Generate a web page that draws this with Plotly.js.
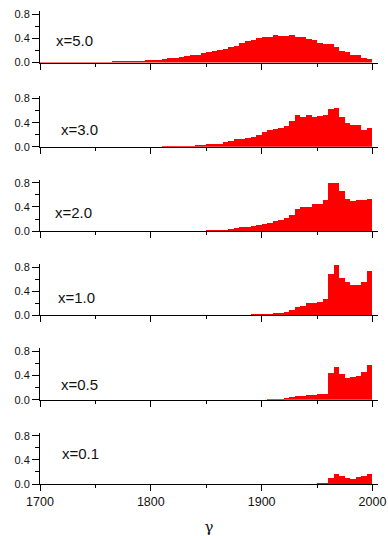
<!DOCTYPE html>
<html>
<head>
<meta charset="utf-8">
<script src="https://cdn.plot.ly/plotly-3.0.1.min.js"></script>
<style>html,body{margin:0;padding:0;background:#fff;}#chart{width:388px;height:536px;}</style>
</head>
<body>
<div id="chart"></div>
<script>
// bin left edges 1700..1995 (width 5)
const binStart = 1700;
const binWidth = 5;
const panelLabels = ["x=5.0", "x=3.0", "x=2.0", "x=1.0", "x=0.5", "x=0.1"];

const histX50 = [0.005,0.005,0.005,0.005,0.005,0.005,0.008,0.008,0.008,0.008,
  0.015,0.015,0.015,0.02,0.02,0.022,0.025,0.028,0.03,0.035,
  0.04,0.045,0.06,0.07,0.08,0.09,0.11,0.125,0.13,0.15,
  0.166,0.19,0.215,0.23,0.26,0.28,0.326,0.36,0.38,0.41,
  0.43,0.43,0.45,0.44,0.44,0.45,0.43,0.42,0.39,0.37,
  0.33,0.30,0.30,0.25,0.19,0.17,0.127,0.12,0.08,0.055];
const histX30 = [0,0,0,0,0,0,0,0,0,0,
  0,0,0,0,0,0,0,0,0,0,
  0.005,0.005,0.008,0.01,0.01,0.015,0.02,0.02,0.025,0.03,
  0.04,0.04,0.045,0.08,0.09,0.13,0.13,0.15,0.155,0.2,
  0.245,0.28,0.29,0.315,0.35,0.43,0.525,0.49,0.52,0.49,
  0.51,0.52,0.63,0.635,0.49,0.39,0.355,0.355,0.28,0.31];
const histX20 = [0,0,0,0,0,0,0,0,0,0,
  0,0,0,0,0,0,0,0,0,0,
  0,0,0,0,0,0,0,0.003,0.005,0.01,
  0.015,0.02,0.02,0.025,0.03,0.045,0.06,0.07,0.08,0.10,
  0.115,0.14,0.17,0.19,0.215,0.275,0.36,0.40,0.40,0.45,
  0.45,0.51,0.80,0.80,0.66,0.54,0.50,0.51,0.52,0.53];
const histX10 = [0,0,0,0,0,0,0,0,0,0,
  0,0,0,0,0,0,0,0,0,0,
  0,0,0,0,0,0,0,0,0,0,
  0,0.003,0.003,0.005,0.005,0.008,0.01,0.012,0.015,0.015,
  0.02,0.025,0.035,0.04,0.06,0.09,0.14,0.155,0.2,0.2,
  0.22,0.265,0.685,0.835,0.625,0.55,0.51,0.51,0.56,0.735];
const histX05 = [0,0,0,0,0,0,0,0,0,0,
  0,0,0,0,0,0,0,0,0,0,
  0,0,0,0,0,0,0,0,0,0,
  0,0,0,0,0,0,0,0,0,0,
  0.003,0.005,0.005,0.008,0.02,0.045,0.055,0.065,0.08,0.08,
  0.09,0.10,0.44,0.54,0.425,0.355,0.37,0.40,0.46,0.575];
const histX01 = [0,0,0,0,0,0,0,0,0,0,
  0,0,0,0,0,0,0,0,0,0,
  0,0,0,0,0,0,0,0,0,0,
  0,0,0,0,0,0,0,0,0,0,
  0,0,0.003,0,0,0,0,0.005,0.008,0.008,
  0.01,0.01,0.105,0.16,0.14,0.105,0.09,0.115,0.14,0.165];

const series = [histX50, histX30, histX20, histX10, histX05, histX01];
const labelX = [1713, 1717, 1712, 1714, 1717, 1718];
const labelY = [0.36, 0.28, 0.30, 0.29, 0.26, 0.50];

const W = 388, H = 536;
const mt = 11, mb = 52;
const plotH = H - mt - mb;
const panelPx = 51.3, stepPx = 84.3;
const n = series.length;

const traces = [];
const layout = {
  width: W, height: H,
  margin: {l: 40, r: 10, t: mt, b: mb},
  paper_bgcolor: '#fff', plot_bgcolor: '#fff',
  showlegend: false, bargap: 0,
  font: {family: 'Liberation Sans, Arial, sans-serif', color: '#111'},
  annotations: []
};

series.forEach((vals, i) => {
  const xs = vals.map((v, k) => binStart + binWidth * k + binWidth / 2);
  const suffix = i === 0 ? '' : String(i + 1);
  traces.push({
    type: 'bar', x: xs, y: vals, width: binWidth,
    xaxis: 'x' + suffix, yaxis: 'y' + suffix,
    marker: {color: '#ff0000', line: {width: 0}},
    hoverinfo: 'skip'
  });
  const fromBottom = (n - 1 - i) * stepPx;
  const dom = [fromBottom / plotH, Math.min(1, (fromBottom + panelPx) / plotH)];
  const isBottom = i === n - 1;
  layout['xaxis' + suffix] = {
    anchor: 'y' + suffix, domain: [0, 1], range: [1700, 2005],
    showgrid: false, zeroline: false, showline: true, linecolor: '#000', linewidth: 1,
    ticks: 'outside', ticklen: 6, tickwidth: 1, tickcolor: '#000',
    tickmode: 'linear', tick0: 1700, dtick: 100,
    minor: {ticks: 'outside', ticklen: 3, tickwidth: 1, tickcolor: '#000', dtick: 50, tick0: 1700, showgrid: false},
    showticklabels: isBottom,
    tickfont: {size: 12.5, color: '#111'},
    fixedrange: true
  };
  if (isBottom) {
    layout['xaxis' + suffix].title = {text: 'γ', font: {family: 'DejaVu Serif, Liberation Serif, serif', size: 15, color: '#111'}, standoff: 17};
  }
  layout['yaxis' + suffix] = {
    anchor: 'x' + suffix, domain: dom, range: [0, 0.85],
    showgrid: false, zeroline: false, showline: true, linecolor: '#000', linewidth: 1,
    ticks: 'outside', ticklen: 7, tickwidth: 1, tickcolor: '#000',
    tickmode: 'array', tickvals: [0, 0.4, 0.8], ticktext: ['0.0', '0.4', '0.8'],
    minor: {ticks: 'outside', ticklen: 4, tickwidth: 1, tickcolor: '#000', tickmode: 'array', tickvals: [0.2, 0.6], showgrid: false},
    tickfont: {size: 11, color: '#111'},
    fixedrange: true
  };
  layout.annotations.push({
    xref: 'x' + suffix, yref: 'y' + suffix,
    x: labelX[i], y: labelY[i], text: panelLabels[i],
    showarrow: false, xanchor: 'left', yanchor: 'middle',
    font: {size: 15, color: '#111'}
  });
});

Plotly.newPlot('chart', traces, layout, {displayModeBar: false, staticPlot: true});
</script>
</body>
</html>
